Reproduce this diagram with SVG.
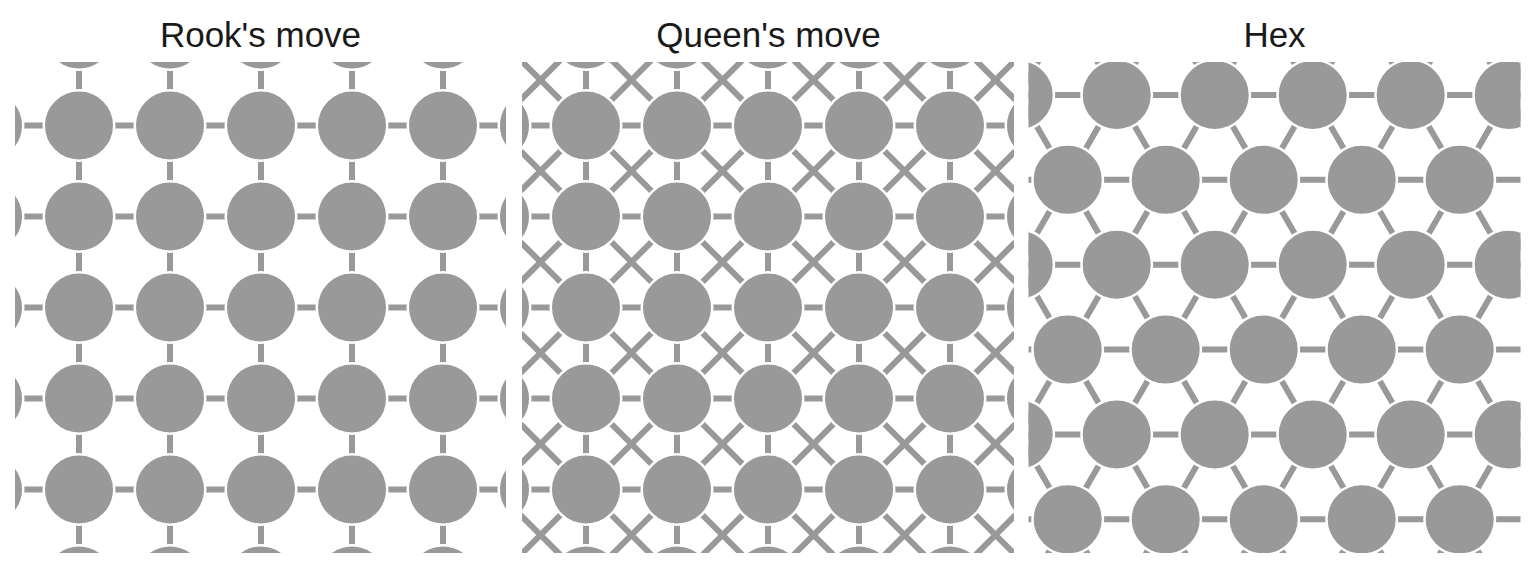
<svg xmlns="http://www.w3.org/2000/svg" width="1536" height="584" viewBox="0 0 1536 584">
<style>
.e{stroke:#999999;stroke-width:6;fill:none}
.n{fill:#999999;stroke:#ffffff;stroke-width:2.5}
.t{font-family:"Liberation Sans",Arial,sans-serif;font-size:35px;fill:#1a1a1a;text-anchor:middle}
</style>
<defs>
<clipPath id="c1"><rect x="15" y="62" width="491" height="491"/></clipPath>
<clipPath id="c2"><rect x="522" y="62" width="492" height="491"/></clipPath>
<clipPath id="c3"><rect x="1028.5" y="62" width="492" height="491"/></clipPath>
</defs>
<rect width="1536" height="584" fill="#ffffff"/>
<text class="t" x="260.5" y="47">Rook's move</text>
<text class="t" x="768.5" y="47">Queen's move</text>
<text class="t" x="1274.5" y="47">Hex</text>

<g id="connectors">
<g clip-path="url(#c1)">
<path class="e" d="M0 34.5H540M0 125.5H540M0 216.5H540M0 307.5H540M0 398.5H540M0 489.5H540M0 580.5H540M-12 0V600M79 0V600M170 0V600M261 0V600M352 0V600M443 0V600M534 0V600"/>
</g>
<g clip-path="url(#c2)">
<path class="e" d="M500 34.5H1050M500 125.5H1050M500 216.5H1050M500 307.5H1050M500 398.5H1050M500 489.5H1050M500 580.5H1050M495 0V600M586 0V600M677 0V600M768 0V600M859 0V600M950 0V600M1041 0V600"/>
<path class="e" d="M5.5 0L605.5 600M96.5 0L696.5 600M187.5 0L787.5 600M278.5 0L878.5 600M369.5 0L969.5 600M460.5 0L1060.5 600M551.5 0L1151.5 600M642.5 0L1242.5 600M733.5 0L1333.5 600M824.5 0L1424.5 600M915.5 0L1515.5 600"/>
<path class="e" d="M620.5 0L20.5 600M711.5 0L111.5 600M802.5 0L202.5 600M893.5 0L293.5 600M984.5 0L384.5 600M1075.5 0L475.5 600M1166.5 0L566.5 600M1257.5 0L657.5 600M1348.5 0L748.5 600M1439.5 0L839.5 600M1530.5 0L930.5 600"/>
</g>
<g clip-path="url(#c3)">
<path class="e" d="M1000 95H1550M1000 179.87H1550M1000 264.74H1550M1000 349.61H1550M1000 434.48H1550M1000 519.35H1550"/>
<path class="e" d="M669.85 0L1016.26 600M767.85 0L1114.26 600M865.85 0L1212.26 600M963.85 0L1310.26 600M1061.85 0L1408.26 600M1159.85 0L1506.26 600M1257.85 0L1604.26 600M1355.85 0L1702.26 600M1453.85 0L1800.26 600"/>
<path class="e" d="M1073.55 0L727.14 600M1171.55 0L825.14 600M1269.55 0L923.14 600M1367.55 0L1021.14 600M1465.55 0L1119.14 600M1563.55 0L1217.14 600M1661.55 0L1315.14 600M1759.55 0L1413.14 600M1857.55 0L1511.14 600"/>
</g>
</g>

<g id="rook" clip-path="url(#c1)">
<g id="rook-0-0"><circle class="n" cx="-12" cy="34.5" r="35.25"/></g>
<g id="rook-0-1"><circle class="n" cx="79" cy="34.5" r="35.25"/></g>
<g id="rook-0-2"><circle class="n" cx="170" cy="34.5" r="35.25"/></g>
<g id="rook-0-3"><circle class="n" cx="261" cy="34.5" r="35.25"/></g>
<g id="rook-0-4"><circle class="n" cx="352" cy="34.5" r="35.25"/></g>
<g id="rook-0-5"><circle class="n" cx="443" cy="34.5" r="35.25"/></g>
<g id="rook-0-6"><circle class="n" cx="534" cy="34.5" r="35.25"/></g>
<g id="rook-1-0"><circle class="n" cx="-12" cy="125.5" r="35.25"/></g>
<g id="rook-1-1"><circle class="n" cx="79" cy="125.5" r="35.25"/></g>
<g id="rook-1-2"><circle class="n" cx="170" cy="125.5" r="35.25"/></g>
<g id="rook-1-3"><circle class="n" cx="261" cy="125.5" r="35.25"/></g>
<g id="rook-1-4"><circle class="n" cx="352" cy="125.5" r="35.25"/></g>
<g id="rook-1-5"><circle class="n" cx="443" cy="125.5" r="35.25"/></g>
<g id="rook-1-6"><circle class="n" cx="534" cy="125.5" r="35.25"/></g>
<g id="rook-2-0"><circle class="n" cx="-12" cy="216.5" r="35.25"/></g>
<g id="rook-2-1"><circle class="n" cx="79" cy="216.5" r="35.25"/></g>
<g id="rook-2-2"><circle class="n" cx="170" cy="216.5" r="35.25"/></g>
<g id="rook-2-3"><circle class="n" cx="261" cy="216.5" r="35.25"/></g>
<g id="rook-2-4"><circle class="n" cx="352" cy="216.5" r="35.25"/></g>
<g id="rook-2-5"><circle class="n" cx="443" cy="216.5" r="35.25"/></g>
<g id="rook-2-6"><circle class="n" cx="534" cy="216.5" r="35.25"/></g>
<g id="rook-3-0"><circle class="n" cx="-12" cy="307.5" r="35.25"/></g>
<g id="rook-3-1"><circle class="n" cx="79" cy="307.5" r="35.25"/></g>
<g id="rook-3-2"><circle class="n" cx="170" cy="307.5" r="35.25"/></g>
<g id="rook-3-3"><circle class="n" cx="261" cy="307.5" r="35.25"/></g>
<g id="rook-3-4"><circle class="n" cx="352" cy="307.5" r="35.25"/></g>
<g id="rook-3-5"><circle class="n" cx="443" cy="307.5" r="35.25"/></g>
<g id="rook-3-6"><circle class="n" cx="534" cy="307.5" r="35.25"/></g>
<g id="rook-4-0"><circle class="n" cx="-12" cy="398.5" r="35.25"/></g>
<g id="rook-4-1"><circle class="n" cx="79" cy="398.5" r="35.25"/></g>
<g id="rook-4-2"><circle class="n" cx="170" cy="398.5" r="35.25"/></g>
<g id="rook-4-3"><circle class="n" cx="261" cy="398.5" r="35.25"/></g>
<g id="rook-4-4"><circle class="n" cx="352" cy="398.5" r="35.25"/></g>
<g id="rook-4-5"><circle class="n" cx="443" cy="398.5" r="35.25"/></g>
<g id="rook-4-6"><circle class="n" cx="534" cy="398.5" r="35.25"/></g>
<g id="rook-5-0"><circle class="n" cx="-12" cy="489.5" r="35.25"/></g>
<g id="rook-5-1"><circle class="n" cx="79" cy="489.5" r="35.25"/></g>
<g id="rook-5-2"><circle class="n" cx="170" cy="489.5" r="35.25"/></g>
<g id="rook-5-3"><circle class="n" cx="261" cy="489.5" r="35.25"/></g>
<g id="rook-5-4"><circle class="n" cx="352" cy="489.5" r="35.25"/></g>
<g id="rook-5-5"><circle class="n" cx="443" cy="489.5" r="35.25"/></g>
<g id="rook-5-6"><circle class="n" cx="534" cy="489.5" r="35.25"/></g>
<g id="rook-6-0"><circle class="n" cx="-12" cy="580.5" r="35.25"/></g>
<g id="rook-6-1"><circle class="n" cx="79" cy="580.5" r="35.25"/></g>
<g id="rook-6-2"><circle class="n" cx="170" cy="580.5" r="35.25"/></g>
<g id="rook-6-3"><circle class="n" cx="261" cy="580.5" r="35.25"/></g>
<g id="rook-6-4"><circle class="n" cx="352" cy="580.5" r="35.25"/></g>
<g id="rook-6-5"><circle class="n" cx="443" cy="580.5" r="35.25"/></g>
<g id="rook-6-6"><circle class="n" cx="534" cy="580.5" r="35.25"/></g>
</g>

<g id="queen" clip-path="url(#c2)">
<g id="queen-0-0"><circle class="n" cx="495" cy="34.5" r="35.25"/></g>
<g id="queen-0-1"><circle class="n" cx="586" cy="34.5" r="35.25"/></g>
<g id="queen-0-2"><circle class="n" cx="677" cy="34.5" r="35.25"/></g>
<g id="queen-0-3"><circle class="n" cx="768" cy="34.5" r="35.25"/></g>
<g id="queen-0-4"><circle class="n" cx="859" cy="34.5" r="35.25"/></g>
<g id="queen-0-5"><circle class="n" cx="950" cy="34.5" r="35.25"/></g>
<g id="queen-0-6"><circle class="n" cx="1041" cy="34.5" r="35.25"/></g>
<g id="queen-1-0"><circle class="n" cx="495" cy="125.5" r="35.25"/></g>
<g id="queen-1-1"><circle class="n" cx="586" cy="125.5" r="35.25"/></g>
<g id="queen-1-2"><circle class="n" cx="677" cy="125.5" r="35.25"/></g>
<g id="queen-1-3"><circle class="n" cx="768" cy="125.5" r="35.25"/></g>
<g id="queen-1-4"><circle class="n" cx="859" cy="125.5" r="35.25"/></g>
<g id="queen-1-5"><circle class="n" cx="950" cy="125.5" r="35.25"/></g>
<g id="queen-1-6"><circle class="n" cx="1041" cy="125.5" r="35.25"/></g>
<g id="queen-2-0"><circle class="n" cx="495" cy="216.5" r="35.25"/></g>
<g id="queen-2-1"><circle class="n" cx="586" cy="216.5" r="35.25"/></g>
<g id="queen-2-2"><circle class="n" cx="677" cy="216.5" r="35.25"/></g>
<g id="queen-2-3"><circle class="n" cx="768" cy="216.5" r="35.25"/></g>
<g id="queen-2-4"><circle class="n" cx="859" cy="216.5" r="35.25"/></g>
<g id="queen-2-5"><circle class="n" cx="950" cy="216.5" r="35.25"/></g>
<g id="queen-2-6"><circle class="n" cx="1041" cy="216.5" r="35.25"/></g>
<g id="queen-3-0"><circle class="n" cx="495" cy="307.5" r="35.25"/></g>
<g id="queen-3-1"><circle class="n" cx="586" cy="307.5" r="35.25"/></g>
<g id="queen-3-2"><circle class="n" cx="677" cy="307.5" r="35.25"/></g>
<g id="queen-3-3"><circle class="n" cx="768" cy="307.5" r="35.25"/></g>
<g id="queen-3-4"><circle class="n" cx="859" cy="307.5" r="35.25"/></g>
<g id="queen-3-5"><circle class="n" cx="950" cy="307.5" r="35.25"/></g>
<g id="queen-3-6"><circle class="n" cx="1041" cy="307.5" r="35.25"/></g>
<g id="queen-4-0"><circle class="n" cx="495" cy="398.5" r="35.25"/></g>
<g id="queen-4-1"><circle class="n" cx="586" cy="398.5" r="35.25"/></g>
<g id="queen-4-2"><circle class="n" cx="677" cy="398.5" r="35.25"/></g>
<g id="queen-4-3"><circle class="n" cx="768" cy="398.5" r="35.25"/></g>
<g id="queen-4-4"><circle class="n" cx="859" cy="398.5" r="35.25"/></g>
<g id="queen-4-5"><circle class="n" cx="950" cy="398.5" r="35.25"/></g>
<g id="queen-4-6"><circle class="n" cx="1041" cy="398.5" r="35.25"/></g>
<g id="queen-5-0"><circle class="n" cx="495" cy="489.5" r="35.25"/></g>
<g id="queen-5-1"><circle class="n" cx="586" cy="489.5" r="35.25"/></g>
<g id="queen-5-2"><circle class="n" cx="677" cy="489.5" r="35.25"/></g>
<g id="queen-5-3"><circle class="n" cx="768" cy="489.5" r="35.25"/></g>
<g id="queen-5-4"><circle class="n" cx="859" cy="489.5" r="35.25"/></g>
<g id="queen-5-5"><circle class="n" cx="950" cy="489.5" r="35.25"/></g>
<g id="queen-5-6"><circle class="n" cx="1041" cy="489.5" r="35.25"/></g>
<g id="queen-6-0"><circle class="n" cx="495" cy="580.5" r="35.25"/></g>
<g id="queen-6-1"><circle class="n" cx="586" cy="580.5" r="35.25"/></g>
<g id="queen-6-2"><circle class="n" cx="677" cy="580.5" r="35.25"/></g>
<g id="queen-6-3"><circle class="n" cx="768" cy="580.5" r="35.25"/></g>
<g id="queen-6-4"><circle class="n" cx="859" cy="580.5" r="35.25"/></g>
<g id="queen-6-5"><circle class="n" cx="950" cy="580.5" r="35.25"/></g>
<g id="queen-6-6"><circle class="n" cx="1041" cy="580.5" r="35.25"/></g>
</g>

<g id="hex" clip-path="url(#c3)">
<g id="hex-0-0"><circle class="n" cx="1018.7" cy="95" r="35.25"/></g>
<g id="hex-0-1"><circle class="n" cx="1116.7" cy="95" r="35.25"/></g>
<g id="hex-0-2"><circle class="n" cx="1214.7" cy="95" r="35.25"/></g>
<g id="hex-0-3"><circle class="n" cx="1312.7" cy="95" r="35.25"/></g>
<g id="hex-0-4"><circle class="n" cx="1410.7" cy="95" r="35.25"/></g>
<g id="hex-0-5"><circle class="n" cx="1508.7" cy="95" r="35.25"/></g>
<g id="hex-1-0"><circle class="n" cx="1067.7" cy="179.87" r="35.25"/></g>
<g id="hex-1-1"><circle class="n" cx="1165.7" cy="179.87" r="35.25"/></g>
<g id="hex-1-2"><circle class="n" cx="1263.7" cy="179.87" r="35.25"/></g>
<g id="hex-1-3"><circle class="n" cx="1361.7" cy="179.87" r="35.25"/></g>
<g id="hex-1-4"><circle class="n" cx="1459.7" cy="179.87" r="35.25"/></g>
<g id="hex-2-0"><circle class="n" cx="1018.7" cy="264.74" r="35.25"/></g>
<g id="hex-2-1"><circle class="n" cx="1116.7" cy="264.74" r="35.25"/></g>
<g id="hex-2-2"><circle class="n" cx="1214.7" cy="264.74" r="35.25"/></g>
<g id="hex-2-3"><circle class="n" cx="1312.7" cy="264.74" r="35.25"/></g>
<g id="hex-2-4"><circle class="n" cx="1410.7" cy="264.74" r="35.25"/></g>
<g id="hex-2-5"><circle class="n" cx="1508.7" cy="264.74" r="35.25"/></g>
<g id="hex-3-0"><circle class="n" cx="1067.7" cy="349.61" r="35.25"/></g>
<g id="hex-3-1"><circle class="n" cx="1165.7" cy="349.61" r="35.25"/></g>
<g id="hex-3-2"><circle class="n" cx="1263.7" cy="349.61" r="35.25"/></g>
<g id="hex-3-3"><circle class="n" cx="1361.7" cy="349.61" r="35.25"/></g>
<g id="hex-3-4"><circle class="n" cx="1459.7" cy="349.61" r="35.25"/></g>
<g id="hex-4-0"><circle class="n" cx="1018.7" cy="434.48" r="35.25"/></g>
<g id="hex-4-1"><circle class="n" cx="1116.7" cy="434.48" r="35.25"/></g>
<g id="hex-4-2"><circle class="n" cx="1214.7" cy="434.48" r="35.25"/></g>
<g id="hex-4-3"><circle class="n" cx="1312.7" cy="434.48" r="35.25"/></g>
<g id="hex-4-4"><circle class="n" cx="1410.7" cy="434.48" r="35.25"/></g>
<g id="hex-4-5"><circle class="n" cx="1508.7" cy="434.48" r="35.25"/></g>
<g id="hex-5-0"><circle class="n" cx="1067.7" cy="519.35" r="35.25"/></g>
<g id="hex-5-1"><circle class="n" cx="1165.7" cy="519.35" r="35.25"/></g>
<g id="hex-5-2"><circle class="n" cx="1263.7" cy="519.35" r="35.25"/></g>
<g id="hex-5-3"><circle class="n" cx="1361.7" cy="519.35" r="35.25"/></g>
<g id="hex-5-4"><circle class="n" cx="1459.7" cy="519.35" r="35.25"/></g>
</g>
</svg>
